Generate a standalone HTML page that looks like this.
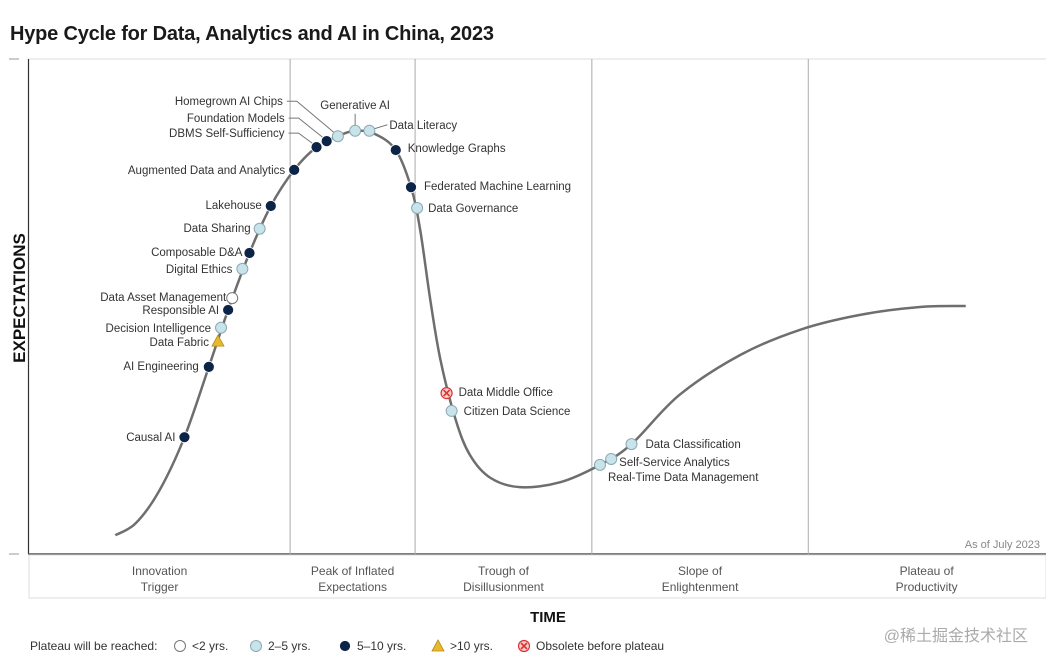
<!DOCTYPE html>
<html><head><meta charset="utf-8">
<style>
html,body{margin:0;padding:0;background:#fff;}
body{width:1046px;height:665px;overflow:hidden;font-family:"Liberation Sans","Noto Sans CJK SC",sans-serif;}
svg text{font-family:"Liberation Sans","Noto Sans CJK SC",sans-serif;}
</style></head>
<body>
<svg id="chart" width="1046" height="665" viewBox="0 0 1046 665" xmlns="http://www.w3.org/2000/svg">
<text x="10" y="40" font-size="20" font-weight="bold" fill="#1a1a1a" letter-spacing="-0.2">Hype Cycle for Data, Analytics and AI in China, 2023</text>
<line x1="28" y1="59" x2="1046" y2="59" stroke="#ddd" stroke-width="1"/>
<line x1="28.5" y1="59" x2="28.5" y2="554" stroke="#333" stroke-width="1.2"/>
<line x1="28" y1="554" x2="1046" y2="554" stroke="#555" stroke-width="1.5"/>
<line x1="9" y1="59" x2="19" y2="59" stroke="#999" stroke-width="1"/>
<line x1="9" y1="554" x2="19" y2="554" stroke="#999" stroke-width="1"/>
<text transform="translate(25,298) rotate(-90)" text-anchor="middle" font-size="17" font-weight="bold" fill="#111">EXPECTATIONS</text>
<rect x="29" y="555" width="1017" height="43" fill="#fff" stroke="#ddd" stroke-width="1"/>
<g id="phases"></g>
<text x="1040" y="548" text-anchor="end" font-size="11" fill="#888">As of July 2023</text>
<text x="548" y="622" text-anchor="middle" font-size="15" font-weight="bold" fill="#111">TIME</text>
<path id="curve" fill="none" stroke="#6e6e6e" stroke-width="2.5"/>
<g id="leaders"></g>
<g id="marks"></g>
<g id="legend"></g>
<text x="1028" y="641" text-anchor="end" font-size="16" fill="#aaa">@稀土掘金技术社区</text>
</svg>
<script>
// ---- data ----
const phaseNames = ["Innovation|Trigger","Peak of Inflated|Expectations","Trough of|Disillusionment","Slope of|Enlightenment","Plateau of|Productivity"];
const phaseBounds = [0, 25.7, 38.0, 55.4, 76.7, 100];
const techNames = ["Causal AI","AI Engineering","Data Fabric","Decision Intelligence","Responsible AI","Data Asset Management","Digital Ethics","Composable D&A","Data Sharing","Lakehouse","Augmented Data and Analytics","DBMS Self-Sufficiency","Foundation Models","Homegrown AI Chips","Generative AI","Data Literacy","Knowledge Graphs","Federated Machine Learning","Data Governance","Data Middle Office","Citizen Data Science","Real-Time Data Management","Self-Service Analytics","Data Classification"];
const techTime = [15.3,17.7,18.6,18.9,19.6,20.0,21.0,21.7,22.7,23.8,26.1,28.3,29.3,30.4,32.1,33.5,36.1,37.6,38.2,41.1,41.6,56.2,57.3,59.3];
const techExpect = [23.4,37.6,42.8,45.5,49.1,51.5,57.4,60.6,65.5,70.1,77.4,82.0,83.2,84.2,85.3,85.3,81.4,73.9,69.7,32.3,28.7,17.8,19.0,22.0];
const techClass = ["5-10","5-10",">10","2-5","5-10","<2","2-5","5-10","2-5","5-10","5-10","5-10","5-10","2-5","2-5","2-5","5-10","5-10","2-5","obsolete","2-5","2-5","2-5","2-5"];
const curveTime = [8.5,10.5,12.8,15.3,17.7,19.6,21.7,23.8,26.1,28.3,30.4,32.1,34,36.1,37.6,38.5,39.5,40.5,42,43.4,45.4,48.3,52.3,56.2,59.3,64,70,75.9,81.8,87.7,92.2];
const curveExpect = [3.6,6.0,12.5,23.4,37.6,49.1,60.6,70.1,77.4,82.0,84.2,85.3,84.7,81.4,73.9,65.3,51.1,39,26.9,19.8,15.2,13.3,14.3,17.8,22.0,31.9,40.0,45.1,48.1,49.7,49.9];
const legendLabels = ["<2 yrs.","2–5 yrs.","5–10 yrs.",">10 yrs.","Obsolete before plateau"];
const legendClass = ["<2","2-5","5-10",">10","obsolete"];

// ---- layout (not data) ----
const X0=29, X1=1045, Y0=553, Y1=58;
const xs = t => X0 + t*(X1-X0)/100;
const ys = e => Y0 - e*(Y0-Y1)/100;
const labelLayout = [["end",-9,4],["end",-10,3],["end",-9,5],["end",-10,4],["end",-9,4],["end",-6,3],["end",-10,4],["end",-7,3],["end",-9,3],["end",-9,3],["end",-9,4],["end",-32,-10],["end",-42,-19],["end",-55,-31],["middle",0,-22],["start",20,-2],["start",12,2],["start",13,3],["start",11,4],["start",12,3],["start",12,4],["start",8,16],["start",8,7],["start",14,4]];
const NS="http://www.w3.org/2000/svg";
function mk(tag, attrs, parent){const e=document.createElementNS(NS,tag);for(const k in attrs)e.setAttribute(k,attrs[k]);parent.appendChild(e);return e;}

const pg=document.getElementById('phases');
phaseNames.forEach((n,i)=>{
  if(i>0){const l=mk('line',{x1:xs(phaseBounds[i]),x2:xs(phaseBounds[i]),y1:59,y2:555,stroke:'#aaa','stroke-width':1},pg);
    
    }
  const cx=(xs(phaseBounds[i])+xs(phaseBounds[i+1]))/2;
  const parts=n.split('|');
  parts.forEach((p,j)=>{const t=mk('text',{x:cx,y:575+j*16,'text-anchor':'middle','font-size':12,fill:'#555'},pg);t.textContent=p;
    
    });
});

const pts=curveTime.map((t,i)=>[xs(t),ys(curveExpect[i])]);
let d=`M${pts[0][0]},${pts[0][1]}`;
for(let i=0;i<pts.length-1;i++){
  const p0=pts[Math.max(0,i-1)],p1=pts[i],p2=pts[i+1],p3=pts[Math.min(pts.length-1,i+2)];
  const c1=[p1[0]+(p2[0]-p0[0])/6,p1[1]+(p2[1]-p0[1])/6];
  const c2=[p2[0]-(p3[0]-p1[0])/6,p2[1]-(p3[1]-p1[1])/6];
  d+=` C${c1[0]},${c1[1]} ${c2[0]},${c2[1]} ${p2[0]},${p2[1]}`;
}
document.getElementById('curve').setAttribute('d',d);

function drawMarker(cls,x,y,parent){
  if(cls==="5-10") return mk('circle',{cx:x,cy:y,r:5.5,fill:'#0b2447',stroke:'#fff','stroke-width':0.8},parent);
  if(cls==="2-5") return mk('circle',{cx:x,cy:y,r:5.5,fill:'#c9e3ea',stroke:'#8aa9b3','stroke-width':1},parent);
  if(cls==="<2") return mk('circle',{cx:x,cy:y,r:5.5,fill:'#fff',stroke:'#777','stroke-width':1},parent);
  if(cls===">10") return mk('polygon',{points:`${x},${y-6} ${x+6},${y+5} ${x-6},${y+5}`,fill:'#e8b92e',stroke:'#b68b10','stroke-width':0.8},parent);
  const g=mk('g',{},parent);
  mk('circle',{cx:x,cy:y,r:5.5,fill:'#f6d0d0',stroke:'#d33','stroke-width':1.2},g);
  mk('path',{d:`M${x-3},${y-3}L${x+3},${y+3}M${x+3},${y-3}L${x-3},${y+3}`,stroke:'#d33','stroke-width':1.6},g);
  return g;
}

const mg=document.getElementById('marks'), lg=document.getElementById('leaders');
techNames.forEach((n,i)=>{
  const x=xs(techTime[i]), y=ys(techExpect[i]);
  const [anc,dx,dy]=labelLayout[i];
  if(i>=11&&i<=13){
    const ly=y+dy-4, lx=x+dx+4;
    const l=mk('polyline',{points:`${lx},${ly} ${lx+10},${ly} ${x-3},${y-3}`,fill:'none',stroke:'#777','stroke-width':1},lg);
    
    
  }
  if(i===14){const l=mk('line',{x1:x,y1:y-17,x2:x,y2:y-5,stroke:'#777','stroke-width':1},lg);
    
    }
  if(i===15){const l=mk('line',{x1:x+5,y1:y-2,x2:x+18,y2:y-6,stroke:'#777','stroke-width':1},lg);
    
    }
  const m=drawMarker(techClass[i],x,y,mg);
  
  
  const t=mk('text',{x:x+dx,y:y+dy,'text-anchor':anc,'font-size':11.5,fill:'#333'},mg);
  t.textContent=n;
  
  
});

const lgd=document.getElementById('legend');
const lt=mk('text',{x:30,y:650,'font-size':12,fill:'#333'},lgd);
lt.textContent='Plateau will be reached:';


const legX=[180,256,345,438,524];
legendLabels.forEach((l,i)=>{
  const m=drawMarker(legendClass[i],legX[i],646,lgd);
  
  
  const t=mk('text',{x:legX[i]+12,y:650,'font-size':12,fill:'#333'},lgd);
  t.textContent=l;
  
  
});
</script>
</body></html>
